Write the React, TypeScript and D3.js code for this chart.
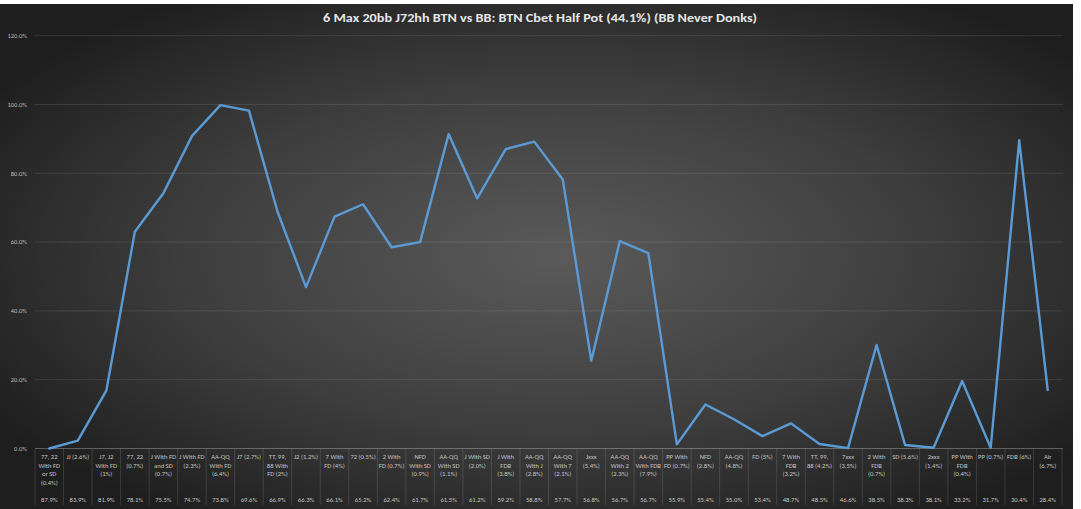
import { scaleBand, scaleLinear, line, range } from "d3";

// hand categories (with the line breaks Excel used)
const categories = [
  "77, 22\nWith FD\nor SD\n(0.4%)",
  "JJ (2.6%)",
  "J7, J2\nWith FD\n(1%)",
  "77, 22\n(0.7%)",
  "J With FD\nand SD\n(0.7%)",
  "J With FD\n(2.3%)",
  "AA-QQ\nWith FD\n(6.4%)",
  "J7 (2.7%)",
  "TT, 99,\n88 With\nFD (2%)",
  "J2 (1.2%)",
  "7 With\nFD (4%)",
  "72 (0.5%)",
  "2 With\nFD (0.7%)",
  "NFD\nWith SD\n(0.9%)",
  "AA-QQ\nWith SD\n(1.1%)",
  "J With SD\n(2.0%)",
  "J With\nFDB\n(3.8%)",
  "AA-QQ\nWith J\n(2.8%)",
  "AA-QQ\nWith 7\n(2.1%)",
  "Jxxx\n(5.4%)",
  "AA-QQ\nWith 2\n(2.3%)",
  "AA-QQ\nWith FDB\n(7.9%)",
  "PP With\nFD (0.7%)",
  "NFD\n(2.8%)",
  "AA-QQ\n(4.8%)",
  "FD (5%)",
  "7 With\nFDB\n(3.2%)",
  "TT, 99,\n88 (4.2%)",
  "7xxx\n(3.5%)",
  "2 With\nFDB\n(0.7%)",
  "SD (5.6%)",
  "2xxx\n(1.4%)",
  "PP With\nFDB\n(0.4%)",
  "PP (0.7%)",
  "FDB (6%)",
  "Air\n(6.7%)",
];

// cbet frequency (plotted line)
const cbetFreq = [
  0.0, 2.3, 16.8, 63.0, 74.2, 90.8, 99.8, 98.2, 68.9, 46.9, 67.4, 71.0, 58.5,
  60.0, 91.4, 72.7, 87.0, 89.2, 78.2, 25.5, 60.3, 56.8, 1.2, 12.8, 8.5, 3.6,
  7.3, 1.3, 0.1, 30.1, 1.0, 0.2, 19.6, 0.2, 89.6, 17.0,
];

// equity row under the table
const equity = [
  87.9, 83.9, 81.9, 78.1, 75.5, 74.7, 73.8, 69.6, 66.9, 66.3, 66.1, 65.2, 62.4,
  61.7, 61.5, 61.2, 59.2, 58.8, 57.7, 56.8, 56.7, 56.7, 55.9, 55.4, 55.0, 53.4,
  48.7, 48.5, 46.6, 38.5, 38.3, 38.1, 33.2, 31.7, 30.4, 28.4,
];

const yTicks = [0, 20, 40, 60, 80, 100, 120];

const title =
  "6 Max 20bb J72hh BTN vs BB: BTN Cbet Half Pot (44.1%) (BB Never Donks)";

const W = 1081;
const H = 509;
const font = "Calibri, Carlito, 'Open Sans', 'DejaVu Sans', sans-serif";

export default function App() {
  const x = scaleBand<number>()
    .domain(range(categories.length))
    .range([35, 1062])
    .padding(0);
  const y = scaleLinear().domain([0, 120]).range([448.5, 35.7]);

  const path =
    line<number>()
      .x((_, i) => (x(i) ?? 0) + x.bandwidth() / 2)
      .y((d) => y(d))(cbetFreq) ?? "";

  return (
    <>
      <style>{"body{margin:0;background:#fff}"}</style>
      <svg width={W} height={H} style={{ display: "block" }}>
        <defs>
          <radialGradient id="bg" cx="0.52" cy="0.5" r="0.62">
            <stop offset="0" stopColor="#5a5a5a" />
            <stop offset="0.55" stopColor="#3e3e3e" />
            <stop offset="1" stopColor="#1e1e1e" />
          </radialGradient>
        </defs>
        <rect x={0} y={4} width={1073} height={H - 4} fill="url(#bg)" />

        <text
          x={540}
          y={21.5}
          textAnchor="middle"
          fontFamily={font}
          fontWeight="bold"
          fontSize={11}
          fill="#e6e6e6"
          textLength={434}
          lengthAdjust="spacingAndGlyphs"
        >
          {title}
        </text>

        {yTicks.map((t) => (
          <g key={t}>
            <line
              x1={35}
              x2={1063}
              y1={y(t)}
              y2={y(t)}
              stroke="#ffffff"
              strokeOpacity={t === 0 ? 0.28 : 0.1}
            />
            <text
              x={27}
              y={y(t) + 2.3}
              textAnchor="end"
              fontFamily={font}
              fontSize={6.5}
              fill="#bdbdbd"
            >
              {t.toFixed(1)}%
            </text>
          </g>
        ))}

        {range(categories.length + 1).map((i) => {
          const xx = i < categories.length ? x(i)! : x.range()[1];
          return (
            <line
              key={i}
              x1={xx}
              x2={xx}
              y1={448.5}
              y2={505}
              stroke="#ffffff"
              strokeOpacity={0.12}
            />
          );
        })}

        {categories.map((c, i) => {
          const cx = x(i)! + x.bandwidth() / 2;
          return (
            <g key={i}>
              <text
                fontFamily={font}
                fontSize={6.6}
                fill="#c4c4c4"
                textAnchor="middle"
              >
                {c.split("\n").map((ln, j) => (
                  <tspan key={j} x={cx} y={459 + j * 8.7}>
                    {ln}
                  </tspan>
                ))}
              </text>
              <text
                x={cx}
                y={502}
                fontFamily={font}
                fontSize={6.6}
                fill="#c4c4c4"
                textAnchor="middle"
              >
                {equity[i].toFixed(1)}%
              </text>
            </g>
          );
        })}

        <path
          d={path}
          fill="none"
          stroke="#5b9bd5"
          strokeWidth={2.4}
          strokeLinejoin="round"
          strokeLinecap="round"
        />
      </svg>
    </>
  );
}
